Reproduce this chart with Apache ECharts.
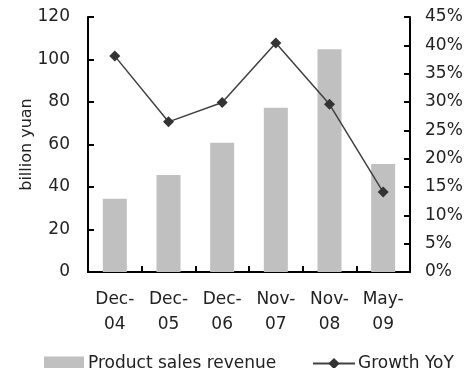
<!DOCTYPE html>
<html>
<head>
<meta charset="utf-8">
<script src="https://cdn.jsdelivr.net/npm/echarts@6/dist/echarts.min.js"></script>
<style>html,body{margin:0;padding:0;background:#fff;}#c{width:473px;height:368px;}</style>
</head>
<body>
<div id="c"></div>
<script>
const categories = ['Dec-\n04', 'Dec-\n05', 'Dec-\n06', 'Nov-\n07', 'Nov-\n08', 'May-\n09'];
const revenue = [34.5, 45.6, 60.8, 77.3, 104.8, 50.8];
const growth = [38.1, 26.5, 29.9, 40.4, 29.6, 14.1];
const revenueName = 'Product sales revenue';
const growthName = 'Growth YoY';
const leftAxisName = 'billion yuan';

const FONT = 'DejaVu Sans';
const TXT = '#222';
const chart = echarts.init(document.getElementById('c'), null, {renderer: 'canvas'});
const axisLine = {show: true, lineStyle: {color: '#000', width: 2}};
const axisTick = {show: true, inside: true, length: 6, lineStyle: {color: '#000', width: 2}};
chart.setOption({
  animation: false,
  backgroundColor: '#fff',
  textStyle: {fontFamily: FONT},
  grid: {left: 88, right: 63, top: 17, bottom: 96, containLabel: false},
  legend: [
    {left: 39, top: 350, itemWidth: 40, itemHeight: 14, itemGap: 4,
     data: [{name: revenueName, icon: 'rect'}],
     textStyle: {fontFamily: FONT, fontSize: 17, color: TXT, padding: [0, 0, 0, -1]}},
    {left: 307, top: 350, itemWidth: 42, itemHeight: 14,
     data: [growthName],
     textStyle: {fontFamily: FONT, fontSize: 17, color: TXT, padding: [0, 0, 0, -2]}}
  ],
  xAxis: {
    type: 'category', data: categories,
    axisLine: axisLine,
    axisTick: {show: true, inside: true, length: 6, alignWithLabel: false, lineStyle: {color: '#000', width: 2}},
    axisLabel: {fontFamily: FONT, fontSize: 17, color: TXT, margin: 15, lineHeight: 25, interval: 0}
  },
  yAxis: [
    {type: 'value', min: 0, max: 120, interval: 20, position: 'left',
     name: leftAxisName, nameLocation: 'middle', nameGap: 53, nameMoveOverlap: false,
     nameTextStyle: {fontFamily: FONT, fontSize: 16, color: TXT},
     axisLine: axisLine, axisTick: axisTick, splitLine: {show: false},
     axisLabel: {fontFamily: FONT, fontSize: 17, color: TXT, margin: 18}},
    {type: 'value', min: 0, max: 45, interval: 5, position: 'right',
     axisLine: axisLine, axisTick: axisTick, splitLine: {show: false},
     axisLabel: {fontFamily: FONT, fontSize: 17, color: TXT, margin: 15, formatter: '{value}%'}}
  ],
  series: [
    {name: revenueName, type: 'bar', data: revenue, barWidth: 24,
     itemStyle: {color: '#c0c0c0'}, yAxisIndex: 0},
    {name: growthName, type: 'line', data: growth, yAxisIndex: 1,
     symbol: 'diamond', symbolSize: 11,
     lineStyle: {color: '#404040', width: 1.5},
     itemStyle: {color: '#333'}}
  ]
});
</script>
</body>
</html>
